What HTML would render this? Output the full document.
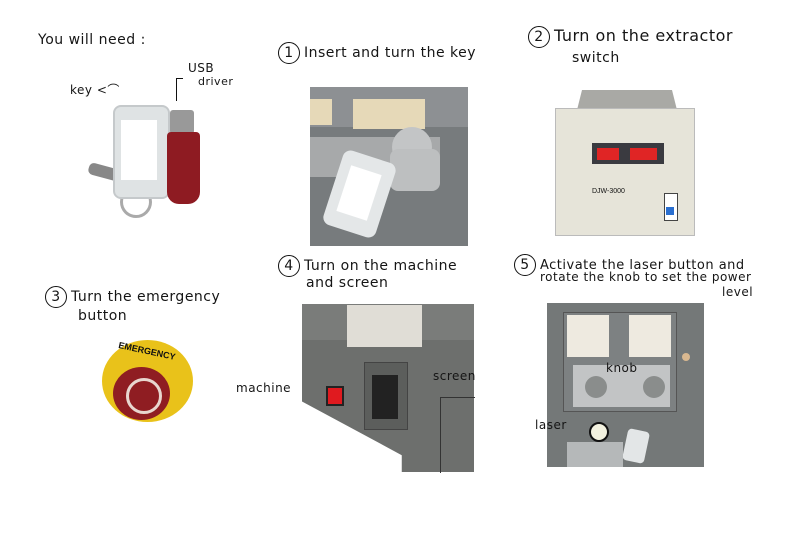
<!DOCTYPE html>
<html><head><meta charset="utf-8"><style>
body{margin:0;width:800px;height:550px;background:#fff;position:relative;overflow:hidden;font-family:"DejaVu Sans","Liberation Sans",sans-serif;color:#111}
.a{position:absolute}
.t{position:absolute;font-size:14px;font-weight:normal;color:#151515;letter-spacing:.5px;white-space:nowrap;line-height:16px}
.c{display:inline-block;width:20px;height:20px;border:1.5px solid #111;border-radius:50%;text-align:center;line-height:20px;font-size:14px;margin-right:4px}
</style></head><body>
<div class="t" style="left:38px;top:32px">You will need :</div>
<div class="t" style="left:70px;top:82px;font-size:12px">key &lt;⌒</div>
<div class="t" style="left:188px;top:60px;font-size:12px">USB</div>
<div class="t" style="left:198px;top:74px;font-size:11px">driver</div>
<div class="a" style="left:176px;top:78px;width:6px;height:22px;border-left:1.5px solid #111;border-top:1.5px solid #111"></div>
<!-- key -->
<div class="a" style="left:88px;top:168px;width:48px;height:12px;background:#888;border-radius:5px;transform:rotate(15deg)"></div>
<div class="a" style="left:120px;top:186px;width:26px;height:26px;border:3px solid #aaa;border-radius:50%"></div>
<div class="a" style="left:113px;top:105px;width:53px;height:90px;background:#dfe3e4;border:2px solid #c5c9cb;border-radius:8px"></div>
<div class="a" style="left:121px;top:120px;width:36px;height:60px;background:#fff"></div>
<div class="a" style="left:170px;top:110px;width:24px;height:24px;background:#999;border-radius:3px"></div>
<div class="a" style="left:167px;top:132px;width:33px;height:72px;background:#8e1b22;border-radius:4px 4px 12px 12px"></div>
<!-- photo 1 -->
<div class="t" style="left:278px;top:42px"><span class="c">1</span>Insert and turn the key</div>
<div class="a" style="left:310px;top:87px;width:158px;height:159px;background:#777b7d;overflow:hidden">
 <div class="a" style="left:0;top:0;width:158px;height:40px;background:#8d9093"></div>
 <div class="a" style="left:43px;top:12px;width:72px;height:30px;background:#e6d9b8"></div>
 <div class="a" style="left:0;top:12px;width:22px;height:26px;background:#e6d9b8"></div>
 <div class="a" style="left:0;top:50px;width:130px;height:40px;background:#a7a9aa"></div>
 <div class="a" style="left:82px;top:40px;width:40px;height:40px;background:#c3c5c6;border-radius:50%"></div>
 <div class="a" style="left:80px;top:62px;width:50px;height:42px;background:#bdbfc0;border-radius:8px"></div>
 <div class="a" style="left:22px;top:68px;width:55px;height:78px;background:#e4e7e8;border-radius:8px;transform:rotate(18deg)"></div>
 <div class="a" style="left:33px;top:82px;width:32px;height:48px;background:#fff;transform:rotate(18deg)"></div>
</div>
<!-- photo 2 -->
<div class="t" style="left:528px;top:26px;font-size:16px"><span class="c">2</span>Turn on the extractor</div>
<div class="t" style="left:572px;top:50px;font-size:14px">switch</div>
<div class="a" style="left:577px;top:90px;width:100px;height:20px;background:#a9a9a5;clip-path:polygon(5% 0,95% 0,100% 100%,0 100%)"></div>
<div class="a" style="left:555px;top:108px;width:138px;height:126px;background:#e6e4d9;border:1px solid #bbb"></div>
<div class="a" style="left:592px;top:143px;width:72px;height:21px;background:#3a3a40"></div>
<div class="a" style="left:597px;top:148px;width:22px;height:12px;background:#e02525"></div>
<div class="a" style="left:630px;top:148px;width:27px;height:12px;background:#e02525"></div>
<div class="a" style="left:592px;top:188px;font-size:7px;font-family:'Liberation Sans',sans-serif">DJW-3000</div>
<div class="a" style="left:664px;top:193px;width:12px;height:26px;background:#fff;border:1px solid #444"></div>
<div class="a" style="left:666px;top:207px;width:8px;height:8px;background:#2a6fd0"></div>
<!-- step 3 -->
<div class="t" style="left:45px;top:286px"><span class="c">3</span>Turn the emergency</div>
<div class="t" style="left:78px;top:308px">button</div>
<div class="a" style="left:102px;top:340px;width:91px;height:82px;background:#e9c21a;border-radius:50%"></div>
<div class="a" style="left:113px;top:367px;width:57px;height:53px;background:#8f1d22;border-radius:50%"></div>
<div class="a" style="left:126px;top:378px;width:30px;height:30px;border:3px solid #e8d6cf;border-radius:50%"></div>
<div class="a" style="left:118px;top:346px;font-size:9px;font-weight:bold;font-family:'Liberation Sans',sans-serif;transform:rotate(12deg)">EMERGENCY</div>
<!-- step 4 -->
<div class="t" style="left:278px;top:255px"><span class="c">4</span>Turn on the machine</div>
<div class="t" style="left:306px;top:275px">and screen</div>
<div class="a" style="left:302px;top:304px;width:172px;height:168px;background:#6d6f6d;clip-path:polygon(0 0,100% 0,100% 100%,58% 100%,58% 90%,0 58%)"></div>
<div class="a" style="left:302px;top:304px;width:172px;height:36px;background:#7a7c7a"></div>
<div class="a" style="left:347px;top:305px;width:75px;height:42px;background:#e0ddd6"></div>
<div class="a" style="left:328px;top:388px;width:14px;height:16px;background:#e01a1f;outline:2px solid #222"></div>
<div class="a" style="left:364px;top:362px;width:42px;height:66px;background:#5c5e5c;border:1px solid #444"></div>
<div class="a" style="left:372px;top:375px;width:26px;height:44px;background:#222"></div>
<div class="a" style="left:440px;top:397px;width:34px;height:75px;border:1px solid #333;border-right:none;border-bottom:none"></div>
<div class="t" style="left:236px;top:380px;font-size:12px">machine</div>
<div class="t" style="left:433px;top:368px;font-size:12px">screen</div>
<!-- step 5 -->
<div class="t" style="left:514px;top:254px;font-size:13px"><span class="c">5</span>Activate the laser button and</div>
<div class="t" style="left:540px;top:269px;font-size:12px">rotate the knob to set the power</div>
<div class="t" style="left:722px;top:284px;font-size:12px">level</div>
<div class="a" style="left:547px;top:303px;width:157px;height:164px;background:#747878"></div>
<div class="a" style="left:563px;top:312px;width:112px;height:98px;background:#7d8182;border:1px solid #555"></div>
<div class="a" style="left:567px;top:315px;width:42px;height:42px;background:#eeeae0"></div>
<div class="a" style="left:629px;top:315px;width:42px;height:42px;background:#eeeae0"></div>
<div class="a" style="left:573px;top:365px;width:97px;height:42px;background:#c2c4c5"></div>
<div class="a" style="left:585px;top:376px;width:22px;height:22px;background:#8a8d8c;border-radius:50%"></div>
<div class="a" style="left:643px;top:376px;width:22px;height:22px;background:#8a8d8c;border-radius:50%"></div>
<div class="a" style="left:682px;top:353px;width:8px;height:8px;background:#d9b890;border-radius:50%"></div>
<div class="a" style="left:589px;top:422px;width:16px;height:16px;background:#f3f2e0;border:2px solid #111;border-radius:50%"></div>
<div class="a" style="left:625px;top:430px;width:22px;height:32px;background:#e3e6e7;border-radius:4px;transform:rotate(12deg)"></div>
<div class="a" style="left:567px;top:442px;width:56px;height:25px;background:#b5b8b9"></div>
<div class="t" style="left:606px;top:360px;font-size:12px">knob</div>
<div class="t" style="left:535px;top:417px;font-size:12px">laser</div>
</body></html>
